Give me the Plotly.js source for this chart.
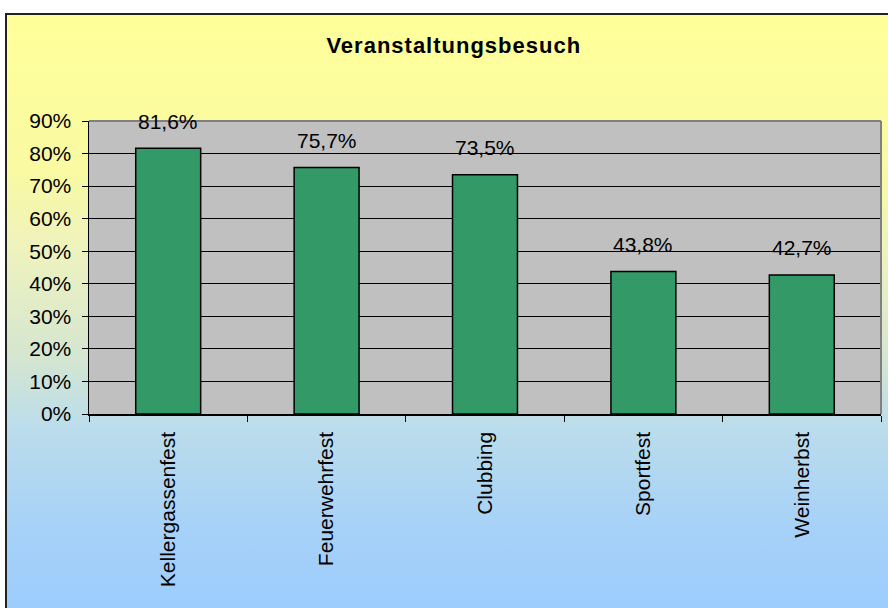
<!DOCTYPE html>
<html>
<head>
<meta charset="utf-8">
<script src="https://cdn.plot.ly/plotly-3.0.1.min.js"></script>
<style>
  html, body { margin: 0; padding: 0; width: 888px; height: 608px; overflow: hidden; background: #ffffff; }
  #frame { position: absolute; left: 5px; top: 13px; width: 900px; height: 620px;
           border-left: 2px solid #222; border-top: 2px solid #222;
           background: linear-gradient(to bottom, #FFFF99 0%, #F9FAA2 25%, #EEF2BE 38%, #D5E6D0 55%, #BCDDEA 66%, #A6D1F8 83%, #99CCFF 100%); }
  #chart { position: absolute; left: 0; top: 0; width: 888px; height: 608px; }
  #chart .gtitle { letter-spacing: 1px; }
</style>
</head>
<body>
<div id="frame"></div>
<div id="chart"></div>
<script>
const categories = ["Kellergassenfest", "Feuerwehrfest", "Clubbing", "Sportfest", "Weinherbst"];
const values = [81.6, 75.7, 73.5, 43.8, 42.7];
const chartTitle = "Veranstaltungsbesuch";

const FONT = "Arial, 'Liberation Sans', sans-serif";

const labels = values.map(v => v.toFixed(1).replace('.', ',') + '%');

const trace = {
  type: 'bar',
  x: categories,
  y: values,
  marker: { color: '#339966', line: { color: '#000000', width: 1.5 } },
  hoverinfo: 'none'
};

const annotations = categories.map((c, i) => ({
  x: c, y: values[i], xref: 'x', yref: 'y',
  text: labels[i], showarrow: false,
  yanchor: 'middle', yshift: 27,
  font: { family: FONT, size: 21, color: '#000000' }
}));

const layout = {
  width: 888, height: 608,
  margin: { l: 89, r: 7, t: 121, b: 194 },
  paper_bgcolor: 'rgba(0,0,0,0)',
  plot_bgcolor: '#C0C0C0',
  showlegend: false,
  bargap: 0.59,
  title: {
    text: '<b>' + chartTitle + '</b>',
    x: 0.511, xanchor: 'center',
    y: 1 - 45 / 608, yanchor: 'middle', yref: 'container',
    font: { family: FONT, size: 22, color: '#000000' }
  },
  xaxis: {
    type: 'category',
    showgrid: false,
    showline: true, linecolor: '#000000', linewidth: 1.5,
    ticks: 'outside', tickson: 'boundaries', ticklen: 6, tickcolor: '#000000', tickwidth: 1,
    tickangle: -90,
    tickfont: { family: FONT, size: 21, color: '#000000' },
    ticklabelstandoff: 8,
    fixedrange: true
  },
  yaxis: {
    range: [0, 90], dtick: 10, tick0: 0,
    ticksuffix: '%',
    showgrid: true, gridcolor: '#000000', gridwidth: 1,
    zeroline: false,
    showline: true, linecolor: '#000000', linewidth: 1.5,
    ticks: 'outside', ticklen: 6, tickcolor: '#000000', tickwidth: 1,
    tickfont: { family: FONT, size: 21, color: '#000000' },
    ticklabelstandoff: 6,
    fixedrange: true
  },
  annotations: annotations,
  shapes: [
    { type: 'line', xref: 'paper', yref: 'paper', x0: 0, x1: 1, y0: 1, y1: 1,
      line: { color: '#808080', width: 2 }, layer: 'above' },
    { type: 'line', xref: 'paper', yref: 'paper', x0: 1, x1: 1, y0: 0, y1: 1,
      line: { color: '#808080', width: 2 }, layer: 'above' }
  ]
};

Plotly.newPlot('chart', [trace], layout, { displayModeBar: false, staticPlot: true });
</script>
</body>
</html>
